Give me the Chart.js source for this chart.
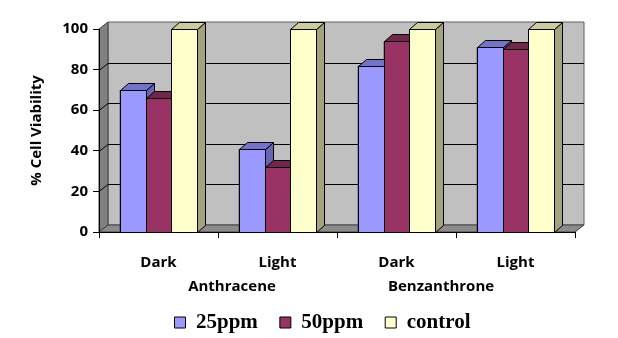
<!DOCTYPE html>
<html>
<head>
<meta charset="utf-8">
<script src="https://cdn.jsdelivr.net/npm/chart.js@4.4.0/dist/chart.umd.min.js"></script>
<style>
  html, body { margin: 0; padding: 0; background: #fff; }
</style>
</head>
<body>
<canvas id="viabilityChart" width="618" height="338"></canvas>
<script>
const categories = ['Dark', 'Light', 'Dark', 'Light'];
const groups = ['Anthracene', 'Benzanthrone'];
const ppm25 = [70, 41, 82, 91];
const ppm50 = [66, 32, 94, 90];
const control = [100, 100, 100, 100];
const yTicks = [0, 20, 40, 60, 80, 100];

// faces for the fake 3d look: front, top, side
const faces = [
    ['#9999ff', '#7373cc', '#6666b3'],
    ['#993366', '#73264d', '#661f44'],
    ['#ffffcc', '#cccc99', '#a3a37e']
];

const WALL_DX = 9, WALL_DY = 7;
const BAR_DX = 8, BAR_DY = 7;

function poly(ctx, pts, fill, stroke) {
    ctx.beginPath();
    ctx.moveTo(pts[0][0], pts[0][1]);
    for (let i = 1; i < pts.length; i++) ctx.lineTo(pts[i][0], pts[i][1]);
    ctx.closePath();
    ctx.fillStyle = fill;
    ctx.fill();
    if (stroke) {
        ctx.strokeStyle = stroke;
        ctx.stroke();
    }
}

// ===== back wall, side wall, floor =====
const wallPlugin = {
    id: 'wall',
    beforeDraw(chart) {
        const ctx = chart.ctx;
        const { left: L, right: R, top: T, bottom: B } = chart.chartArea;
        const y = chart.scales.y;
        ctx.save();
        ctx.lineWidth = 1;
        poly(ctx, [[L + WALL_DX, T - WALL_DY], [R + WALL_DX, T - WALL_DY], [R + WALL_DX, B - WALL_DY], [L + WALL_DX, B - WALL_DY]], '#c0c0c0', '#606060');
        poly(ctx, [[L, T], [L + WALL_DX, T - WALL_DY], [L + WALL_DX, B - WALL_DY], [L, B]], '#808080', '#404040');
        poly(ctx, [[L, B], [L + WALL_DX, B - WALL_DY], [R + WALL_DX, B - WALL_DY], [R, B]], '#8c8c8c', '#404040');

        ctx.strokeStyle = '#000';
        yTicks.forEach(v => {
            if (v === 0 || v === 100) return;
            const py = Math.round(y.getPixelForValue(v)) + 0.5;
            ctx.beginPath();
            ctx.moveTo(L, py);
            ctx.lineTo(L + WALL_DX, py - WALL_DY);
            ctx.lineTo(R + WALL_DX, py - WALL_DY);
            ctx.stroke();
        });
        ctx.restore();
    }
};

// ===== bars with top and side faces, drawn left to right =====
const barsPlugin = {
    id: 'bars3d',
    afterDatasetsDraw(chart) {
        const ctx = chart.ctx;
        ctx.save();
        ctx.lineWidth = 1;
        for (let i = 0; i < categories.length; i++) {
            chart.data.datasets.forEach((ds, d) => {
                const bar = chart.getDatasetMeta(d).data[i];
                const { x, y, base, width } = bar.getProps(['x', 'y', 'base', 'width'], true);
                const l = Math.round(x - width / 2) + 0.5;
                const r = Math.round(x + width / 2) + 0.5;
                const t = Math.round(y) + 0.5;
                const b = Math.round(base) + 0.5;
                const [front, top, side] = faces[d];
                poly(ctx, [[r, t], [r + BAR_DX, t - BAR_DY], [r + BAR_DX, b - BAR_DY], [r, b]], side, '#000');
                poly(ctx, [[l, t], [l + BAR_DX, t - BAR_DY], [r + BAR_DX, t - BAR_DY], [r, t]], top, '#000');
                poly(ctx, [[l, t], [r, t], [r, b], [l, b]], front, '#000');
            });
        }
        ctx.restore();
    }
};

// ===== second row of category labels =====
const groupPlugin = {
    id: 'groups',
    afterDraw(chart) {
        const ctx = chart.ctx;
        const x = chart.scales.x;
        ctx.save();
        ctx.font = 'bold 15px "Open Sans"';
        ctx.fillStyle = '#000';
        ctx.textAlign = 'center';
        ctx.textBaseline = 'middle';
        groups.forEach((g, gi) => {
            const mid = (x.getPixelForValue(gi * 2) + x.getPixelForValue(gi * 2 + 1)) / 2;
            const shift = gi === 0 ? 14 : -15;
            ctx.fillText(g, mid + shift, 287);
        });
        ctx.restore();
    }
};

const ctx = document.getElementById('viabilityChart');

new Chart(ctx, {
    type: 'bar',
    data: {
        labels: categories,
        datasets: [
            { label: '25ppm', data: ppm25, backgroundColor: faces[0][0], borderColor: '#000', borderWidth: 1 },
            { label: '50ppm', data: ppm50, backgroundColor: faces[1][0], borderColor: '#000', borderWidth: 1 },
            { label: 'control', data: control, backgroundColor: faces[2][0], borderColor: '#000', borderWidth: 1 }
        ]
    },
    options: {
        responsive: false,
        animation: false,
        layout: { padding: { left: 27, top: 29, right: 0, bottom: -5 } },
        datasets: { bar: { categoryPercentage: 0.655, barPercentage: 1 } },
        scales: {
            y: {
                min: 0,
                max: 100,
                afterFit: s => { s.width = 72; },
                ticks: { stepSize: 20, color: '#000', padding: 5, font: { family: 'Open Sans', weight: 'bold', size: 15 } },
                grid: { drawOnChartArea: false, tickLength: 6, color: '#000' },
                border: { color: '#000' },
                title: { display: true, text: '% Cell Viability', color: '#000', padding: { top: 1, bottom: 0 }, font: { family: 'Open Sans', weight: 'bold', size: 15 } }
            },
            // empty strip on the right, keeps the plot narrower than the legend row
            yRight: {
                position: 'right',
                afterFit: s => { s.width = 43; },
                ticks: { display: false },
                grid: { display: false },
                border: { display: false }
            },
            x: {
                afterFit: s => { s.height = 58; },
                ticks: { color: '#000', padding: 16, font: { family: 'Open Sans', weight: 'bold', size: 15 } },
                grid: { drawOnChartArea: false, tickLength: 6, color: '#000' },
                border: { color: '#000' }
            }
        },
        plugins: {
            legend: {
                position: 'bottom',
                labels: { boxWidth: 11, boxHeight: 11, padding: 22, color: '#000', font: { family: 'Liberation Serif', weight: 'bold', size: 21 } }
            },
            tooltip: { enabled: false }
        }
    },
    plugins: [wallPlugin, barsPlugin, groupPlugin]
});
</script>
</body>
</html>
